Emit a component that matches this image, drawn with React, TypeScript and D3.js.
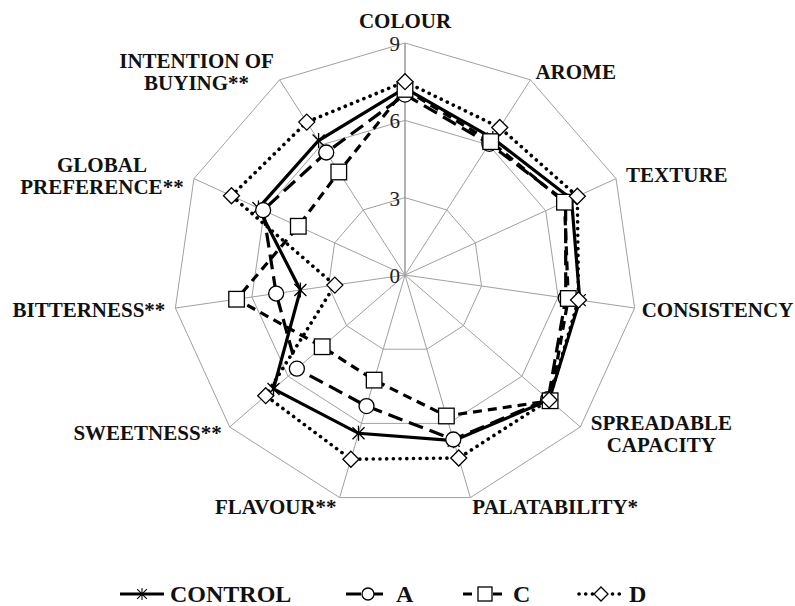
import React from 'react';
import * as d3 from 'd3';

const axisLabels: string[][] = [
  ['COLOUR'],
  ['AROME'],
  ['TEXTURE'],
  ['CONSISTENCY'],
  ['SPREADABLE', 'CAPACITY'],
  ['PALATABILITY*'],
  ['FLAVOUR**'],
  ['SWEETNESS**'],
  ['BITTERNESS**'],
  ['GLOBAL', 'PREFERENCE**'],
  ['INTENTION OF', 'BUYING**'],
];

const ticks = [0, 3, 6, 9];

const control = [7.25, 6.3, 7.1, 6.85, 7.4, 6.7, 6.4, 6.75, 4.1, 6.25, 6.2];
const sampleA = [7.0, 6.05, 6.85, 6.3, 7.35, 6.65, 5.3, 5.55, 5.05, 6.05, 5.65];
const sampleC = [7.2, 6.15, 6.8, 6.4, 7.45, 5.7, 4.25, 4.25, 6.6, 4.55, 4.75];
const sampleD = [7.5, 6.8, 7.35, 6.8, 7.4, 7.4, 7.45, 7.15, 2.75, 7.4, 7.05];

const seriesNames = ['CONTROL', 'A', 'C', 'D'];

// label block centre relative to the outer vertex of each axis
const labelLayout = [
  { anchor: 'middle', dx: 0, dy: -22 },
  { anchor: 'start', dx: 5, dy: -8 },
  { anchor: 'start', dx: 10, dy: -4 },
  { anchor: 'start', dx: 7, dy: 2 },
  { anchor: 'middle', dx: 81, dy: 7 },
  { anchor: 'start', dx: 2, dy: 9 },
  { anchor: 'end', dx: -3, dy: 9 },
  { anchor: 'end', dx: -8, dy: 6 },
  { anchor: 'end', dx: -10, dy: 2 },
  { anchor: 'middle', dx: -92, dy: -3 },
  { anchor: 'middle', dx: -83, dy: -8 },
];

const W = 795;
const H = 606;
const cx = 405;
const cy = 275;
const R = 232;
const font = 'Liberation Serif';

const starPath = 'M-6,-6L6,6M-6,6L6,-6M0,-7.5L0,7.5';

function Marker({ kind, x, y, legend }: { kind: number; x: number; y: number; legend?: boolean }) {
  const s = legend ? 0.8 : 1;
  if (kind === 0) {
    return <path d={starPath} transform={`translate(${x},${y}) scale(${s})`} stroke="#000" strokeWidth={1.3} fill="none" />;
  }
  if (kind === 1) {
    return <circle cx={x} cy={y} r={legend ? 6 : 7.5} fill="#fff" stroke="#000" strokeWidth={1.3} />;
  }
  if (kind === 2) {
    const h = legend ? 7 : 7.8;
    return <rect x={x - h} y={y - h} width={2 * h} height={2 * h} fill="#fff" stroke="#000" strokeWidth={1.3} />;
  }
  const d = legend ? 7 : 8;
  return <path d={`M${x},${y - d}L${x + d},${y}L${x},${y + d}L${x - d},${y}Z`} fill="#fff" stroke="#000" strokeWidth={1.3} />;
}

export default function App() {
  const series = [control, sampleA, sampleC, sampleD];
  const n = axisLabels.length;
  const angle = d3.scaleLinear().domain([0, n]).range([0, 2 * Math.PI]);
  const r = d3.scaleLinear().domain([0, 9]).range([0, R]);

  const px = (i: number, v: number) => cx + r(v) * Math.sin(angle(i));
  const py = (i: number, v: number) => cy - r(v) * Math.cos(angle(i));

  const radial = d3
    .lineRadial<number>()
    .angle((_, i) => angle(i))
    .radius((v) => r(v))
    .curve(d3.curveLinearClosed);

  const styles = [
    { dash: undefined as string | undefined, width: 3.2, cap: 'butt' },
    { dash: '15 7', width: 3.2, cap: 'butt' },
    { dash: '9 6', width: 3.2, cap: 'butt' },
    { dash: '0.1 6.6', width: 3.6, cap: 'round' },
  ];

  const idx = d3.range(n);
  const legendX = [142, 368, 485, 601];
  const lineGap = 22;

  return (
    <svg width={W} height={H} fontFamily={font} style={{ position: 'absolute', left: 0, top: 0 }}>
      <rect width={W} height={H} fill="#fff" />
      <g stroke="#a0a0a0" fill="none" strokeWidth={1}>
        {ticks.filter((t) => t > 0).map((t) => (
          <polygon key={t} points={idx.map((i) => `${px(i, t)},${py(i, t)}`).join(' ')} />
        ))}
        {idx.map((i) => (
          <line key={i} x1={cx} y1={cy} x2={px(i, 9)} y2={py(i, 9)} strokeWidth={i === 0 ? 1.6 : 1} />
        ))}
      </g>
      {ticks.map((t) => (
        <text key={t} x={cx - 5} y={py(0, t) + 8} fontFamily={font} fontSize={21} fill="#222" textAnchor="end">{t}</text>
      ))}
      <g transform={`translate(${cx},${cy})`}>
        {series.map((vals, s) => (
          <path
            key={s}
            d={radial(vals) || ''}
            fill="none"
            stroke="#000"
            strokeWidth={styles[s].width}
            strokeDasharray={styles[s].dash}
            strokeLinecap={styles[s].cap as any}
          />
        ))}
      </g>
      {series.map((vals, s) => (
        <g key={s}>
          {vals.map((v, i) => (
            <Marker key={i} kind={s} x={px(i, v)} y={py(i, v)} />
          ))}
        </g>
      ))}
      {axisLabels.map((lines, i) => {
        const L = labelLayout[i];
        const x = px(i, 9) + L.dx;
        const y0 = py(i, 9) + L.dy - ((lines.length - 1) * lineGap) / 2 + 7;
        return (
          <text key={i} x={x} y={y0} textAnchor={L.anchor} fontFamily={font} fontWeight="bold" fontSize={21} fill="#111">
            {lines.map((ln, k) => (
              <tspan key={k} x={x} dy={k === 0 ? 0 : lineGap}>{ln}</tspan>
            ))}
          </text>
        );
      })}
      {seriesNames.map((name, s) => {
        const x = legendX[s];
        const y = 594;
        return (
          <g key={s}>
            <line
              x1={x - 22}
              x2={x + 22}
              y1={y}
              y2={y}
              stroke="#000"
              strokeWidth={styles[s].width}
              strokeDasharray={styles[s].dash}
              strokeLinecap={styles[s].cap as any}
            />
            <Marker kind={s} x={x} y={y} legend />
            <text x={x + 28} y={y + 8} fontFamily={font} fontWeight="bold" fontSize={24} fill="#111">{name}</text>
          </g>
        );
      })}
    </svg>
  );
}
